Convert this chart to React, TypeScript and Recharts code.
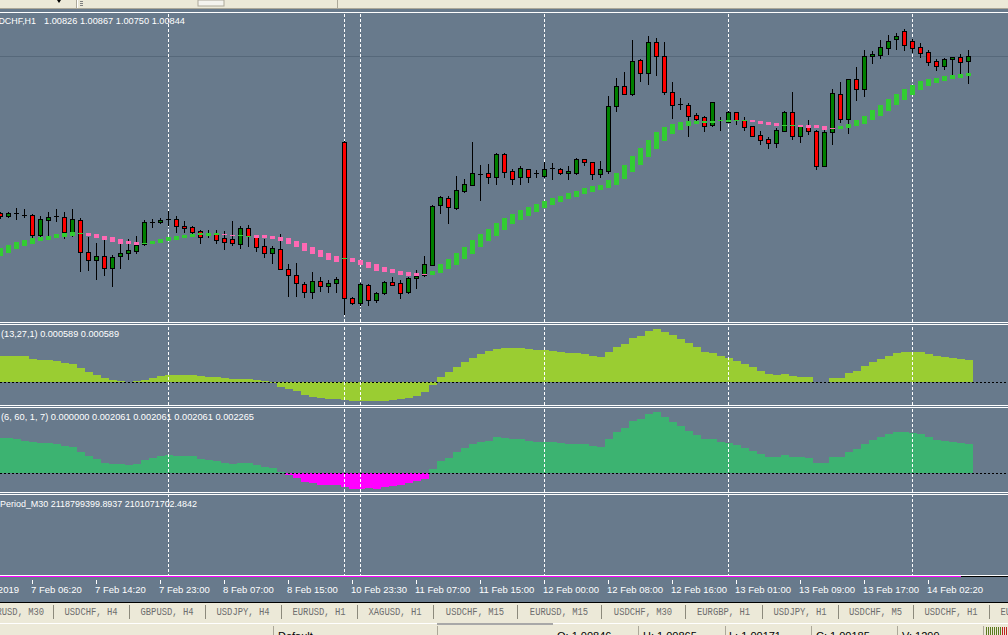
import React from 'react';
import { ComposedChart, Bar, XAxis, YAxis, ReferenceLine, Cell } from 'recharts';

// ---- USDCHF H1 candles ----
const openPrices = [
  1.00282, 1.00272, 1.00282, 1.00277, 1.00276, 1.00205, 1.00259, 1.00272, 1.00269, 1.00217,
  1.00257, 1.00143, 1.00116, 1.00128, 1.00088, 1.00128, 1.00141, 1.00149, 1.00171, 1.0025,
  1.0025, 1.00261, 1.00261, 1.00238, 1.00232, 1.00218, 1.00207, 1.00211, 1.00193, 1.00189,
  1.00174, 1.00229, 1.00202, 1.00165, 1.00139, 1.00155, 1.00083, 1.0006, 1.00028, 1.0,
  1.00039, 1.00021, 1.00032, 1.00537, 0.99978, 0.9996, 1.00026, 0.9997, 0.99996, 1.00035,
  1.00032, 1.00002, 1.0005, 1.00062, 1.00098, 1.00313, 1.00337, 1.00302, 1.00363, 1.00385,
  1.00424, 1.00427, 1.00413, 1.00495, 1.00433, 1.00413, 1.0044, 1.00426, 1.00417, 1.00446,
  1.00442, 1.00426, 1.00428, 1.00476, 1.00465, 1.00424, 1.00435, 1.00668, 1.00738, 1.00711,
  1.00831, 1.00786, 1.00896, 1.00845, 1.00718, 1.00673, 1.0067, 1.00634, 1.00627, 1.00597,
  1.00616, 1.0061, 1.00644, 1.00618, 1.00594, 1.00562, 1.00548, 1.00533, 1.00578, 1.00644,
  1.0056, 1.00595, 1.00577, 1.00453, 1.00575, 1.0071, 1.0062, 1.00762, 1.00728, 1.00844,
  1.0085, 1.00875, 1.00905, 1.00934, 1.00899, 1.00877, 1.0086, 1.00828, 1.00809, 1.00834,
  1.00842, 1.00826,
];
const highPrices = [
  1.00287, 1.00288, 1.003, 1.00298, 1.00279, 1.00273, 1.00288, 1.00298, 1.00286, 1.00298,
  1.00265, 1.00199, 1.00175, 1.00187, 1.00133, 1.00175, 1.00189, 1.00201, 1.00257, 1.00262,
  1.00265, 1.00291, 1.00273, 1.00254, 1.00238, 1.00223, 1.00222, 1.00223, 1.00219, 1.00255,
  1.00237, 1.0024, 1.00205, 1.00189, 1.00166, 1.00208, 1.00101, 1.00105, 1.00036, 1.00071,
  1.00053, 1.00044, 1.00055, 1.00541, 0.99982, 1.00032, 1.00029, 1.00002, 1.00041, 1.00054,
  1.00043, 1.00055, 1.00078, 1.00129, 1.00313, 1.00344, 1.00344, 1.00416, 1.00404, 1.00538,
  1.00455, 1.00459, 1.00498, 1.00498, 1.0044, 1.00452, 1.00442, 1.00437, 1.00467, 1.00464,
  1.00446, 1.00452, 1.0048, 1.00478, 1.00467, 1.0047, 1.00702, 1.00768, 1.00789, 1.00903,
  1.00835, 1.00917, 1.00909, 1.00896, 1.00752, 1.00695, 1.00676, 1.0064, 1.00632, 1.00682,
  1.00626, 1.00649, 1.00646, 1.00626, 1.00596, 1.00577, 1.00555, 1.00587, 1.0065, 1.00717,
  1.00597, 1.00616, 1.0058, 1.00581, 1.00727, 1.00752, 1.00764, 1.00806, 1.00867, 1.00863,
  1.00903, 1.00921, 1.00929, 1.00942, 1.00905, 1.00892, 1.00867, 1.00835, 1.00839, 1.00843,
  1.00854, 1.00867,
];
const lowPrices = [
  1.00266, 1.00268, 1.00263, 1.00268, 1.00199, 1.00199, 1.00202, 1.00255, 1.00195, 1.00202,
  1.00077, 1.00079, 1.00048, 1.00063, 1.00022, 1.00088, 1.0012, 1.00141, 1.00169, 1.00234,
  1.00247, 1.0024, 1.00217, 1.00217, 1.00211, 1.00177, 1.00196, 1.00177, 1.00156, 1.00168,
  1.00158, 1.00166, 1.00149, 1.00127, 1.00106, 1.00082, 0.99987, 0.99987, 0.99984, 0.9998,
  1.00004, 1.0, 1.00001, 0.99922, 0.99957, 0.99954, 0.99954, 0.99965, 0.99994, 1.00027,
  0.9998, 0.99996, 1.00015, 1.00059, 1.00098, 1.00282, 1.00249, 1.00299, 1.0036, 1.00385,
  1.0033, 1.00392, 1.00387, 1.00413, 1.00387, 1.00387, 1.00394, 1.00411, 1.00413, 1.00404,
  1.00423, 1.00404, 1.00423, 1.00454, 1.00404, 1.00413, 1.00426, 1.0065, 1.00711, 1.00706,
  1.00757, 1.00744, 1.00778, 1.00708, 1.00625, 1.00657, 1.0056, 1.00616, 1.00577, 1.00595,
  1.00581, 1.00608, 1.00601, 1.00582, 1.0056, 1.00532, 1.00517, 1.00521, 1.00576, 1.0055,
  1.00539, 1.00565, 1.00442, 1.00453, 1.0053, 1.0061, 1.00571, 1.00688, 1.00703, 1.00821,
  1.00837, 1.00854, 1.00871, 1.00867, 1.0086, 1.00843, 1.00814, 1.00797, 1.008, 1.00778,
  1.00781, 1.0075,
];
const closePrices = [
  1.00273, 1.00283, 1.00282, 1.00277, 1.00205, 1.00262, 1.00269, 1.00272, 1.00217, 1.00262,
  1.00143, 1.00116, 1.00128, 1.00088, 1.00126, 1.0014, 1.00151, 1.00169, 1.0025, 1.0025,
  1.00257, 1.00261, 1.00238, 1.00229, 1.00217, 1.00199, 1.00211, 1.00187, 1.00181, 1.00177,
  1.00229, 1.00201, 1.00163, 1.00139, 1.00157, 1.00084, 1.00063, 1.00032, 1.0, 1.00039,
  1.00021, 1.00032, 1.00047, 0.99978, 0.9996, 1.00029, 0.9997, 0.99996, 1.00035, 1.00027,
  0.99998, 1.00051, 1.00059, 1.00101, 1.00309, 1.0034, 1.00306, 1.00365, 1.00386, 1.00426,
  1.00424, 1.00413, 1.00495, 1.0043, 1.00406, 1.00443, 1.00411, 1.00426, 1.00442, 1.00446,
  1.00426, 1.00433, 1.00476, 1.00465, 1.00424, 1.00441, 1.00666, 1.00738, 1.00711, 1.00828,
  1.00786, 1.00896, 1.00845, 1.00718, 1.00671, 1.00673, 1.00632, 1.0062, 1.00594, 1.0068,
  1.00616, 1.00645, 1.00615, 1.00592, 1.0056, 1.00544, 1.00533, 1.00581, 1.00645, 1.0056,
  1.00595, 1.00578, 1.00453, 1.00573, 1.00713, 1.0062, 1.00762, 1.00728, 1.00845, 1.00853,
  1.00877, 1.00899, 1.00917, 1.00886, 1.00875, 1.00857, 1.00825, 1.00809, 1.00835, 1.00841,
  1.00825, 1.00844,
];

// ---- coloured moving-average blocks (band between previous and current value) ----
const maHigh = [
  1.00157, 1.00169, 1.0018, 1.00187, 1.00194, 1.00198, 1.00201, 1.00208, 1.00212, 1.00215,
  1.00212, 1.00212, 1.00208, 1.00201, 1.00196, 1.0019, 1.00183, 1.0018, 1.00175, 1.00183,
  1.0019, 1.00196, 1.00202, 1.00205, 1.00209, 1.0021, 1.00212, 1.00212, 1.00207, 1.00205,
  1.00205, 1.00202, 1.00205, 1.00205, 1.00201, 1.00198, 1.00194, 1.00183, 1.00176, 1.00162,
  1.00151, 1.00139, 1.0013, 1.00122, 1.00122, 1.00115, 1.00108, 1.00101, 1.00091, 1.00084,
  1.00076, 1.00072, 1.00068, 1.00064, 1.00076, 1.001, 1.00119, 1.0014, 1.00162, 1.00187,
  1.00208, 1.00226, 1.00248, 1.00266, 1.0028, 1.00294, 1.00305, 1.00316, 1.00326, 1.00337,
  1.00344, 1.00355, 1.00362, 1.00373, 1.0038, 1.00385, 1.00402, 1.00427, 1.00455, 1.00488,
  1.00516, 1.00545, 1.00573, 1.0059, 1.00602, 1.00609, 1.00613, 1.00613, 1.00613, 1.00613,
  1.00615, 1.00615, 1.00616, 1.00618, 1.00616, 1.00613, 1.00609, 1.00606, 1.006, 1.00599,
  1.00599, 1.00599, 1.00599, 1.00595, 1.00587, 1.00595, 1.00602, 1.00616, 1.00631, 1.00652,
  1.0067, 1.00692, 1.0071, 1.00727, 1.00742, 1.00756, 1.00763, 1.00767, 1.00774, 1.00778,
  1.00781, 1.00785,
];
const maLow = [
  1.00131, 1.00141, 1.00155, 1.00165, 1.00174, 1.00183, 1.00187, 1.00194, 1.00198, 1.00201,
  1.00212, 1.00201, 1.00194, 1.00187, 1.0018, 1.00174, 1.00174, 1.00169, 1.00175, 1.00172,
  1.00176, 1.00184, 1.00187, 1.00194, 1.00198, 1.00203, 1.00201, 1.00205, 1.00207, 1.00205,
  1.00205, 1.00202, 1.00195, 1.00194, 1.0019, 1.00183, 1.00172, 1.00162, 1.00147, 1.00137,
  1.00126, 1.00115, 1.00109, 1.00122, 1.00109, 1.00097, 1.00088, 1.00077, 1.00073, 1.0007,
  1.00063, 1.00059, 1.00059, 1.00064, 1.00062, 1.0007, 1.00083, 1.00097, 1.00119, 1.00137,
  1.00162, 1.00183, 1.00201, 1.00223, 1.00244, 1.00258, 1.00273, 1.00287, 1.00301, 1.00312,
  1.00323, 1.00334, 1.00341, 1.00351, 1.00359, 1.00366, 1.00373, 1.00384, 1.00405, 1.0043,
  1.00455, 1.00484, 1.00513, 1.00541, 1.00566, 1.00581, 1.00595, 1.00602, 1.00606, 1.00606,
  1.00615, 1.00609, 1.00612, 1.00618, 1.00609, 1.00602, 1.00599, 1.00595, 1.006, 1.00599,
  1.00592, 1.00587, 1.00588, 1.00581, 1.00587, 1.00583, 1.00588, 1.00595, 1.00602, 1.00616,
  1.00631, 1.00649, 1.0067, 1.00688, 1.00706, 1.00724, 1.00738, 1.00749, 1.00756, 1.00763,
  1.00767, 1.00774,
];
const maRising = [
  1, 1, 1, 1, 1, 1, 1, 1, 1, 1, 1,
  0, 0, 0, 0, 0, 0, 0,
  1, 1, 1, 1, 1, 1, 1, 1, 1, 1,
  0, 0,
  1, 1,
  0, 0, 0, 0, 0, 0, 0, 0, 0, 0, 0,
  1,
  0, 0, 0, 0, 0, 0, 0, 0, 0, 0,
  1, 1, 1, 1, 1, 1, 1, 1, 1, 1, 1, 1, 1, 1, 1, 1, 1, 1, 1, 1,
  1, 1, 1, 1, 1, 1, 1, 1, 1, 1, 1, 1, 1, 1, 1, 1, 1, 1, 1, 1,
  0, 0, 0, 0,
  1, 1,
  0, 0, 0, 0, 0,
  1, 1, 1, 1, 1, 1, 1, 1, 1, 1, 1, 1, 1, 1, 1, 1, 1,
];

// ---- indicator window 1 (13,27,1) ----
const osmaValues = [
  0.000696, 0.000696, 0.000696, 0.000696, 0.000625, 0.000589, 0.000589, 0.000553, 0.0005, 0.000482,
  0.000375, 0.000268, 0.000187, 0.000107, 0.000054, 0.000036, 0.0, 0.000018, 0.000054, 0.000107,
  0.000152, 0.000178, 0.000178, 0.000178, 0.000178, 0.000161, 0.000143, 0.000125, 0.000107, 0.000071,
  0.000089, 0.000089, 0.000045, 0.000018, -0.000036, -0.000125, -0.000178, -0.000232, -0.000339, -0.000393,
  -0.000428, -0.000446, -0.000446, -0.000482, -0.000517, -0.000517, -0.0005, -0.000517, -0.0005, -0.000482,
  -0.000464, -0.000428, -0.000375, -0.000268, -0.000071, 0.000143, 0.000268, 0.000401, 0.000544, 0.000642,
  0.000749, 0.000821, 0.000874, 0.00091, 0.00091, 0.00091, 0.000883, 0.000856, 0.000856, 0.00083,
  0.000803, 0.000776, 0.000776, 0.000749, 0.000696, 0.000669, 0.000803, 0.000937, 0.001017, 0.001177,
  0.001231, 0.001365, 0.001418, 0.001338, 0.001258, 0.001151, 0.001044, 0.000937, 0.000803, 0.000776,
  0.000696, 0.000642, 0.000562, 0.000482, 0.000401, 0.000294, 0.000214, 0.000187, 0.000214, 0.000161,
  0.000134, 0.000134, 0.000009, 0.0, 0.000107, 0.000107, 0.000241, 0.000294, 0.000428, 0.000535,
  0.000616, 0.000696, 0.000776, 0.000803, 0.000803, 0.000803, 0.000749, 0.000696, 0.000669, 0.000642,
  0.000616, 0.000589,
];

// ---- indicator window 2 (6, 60, 1, 7) ----
const histValues = [
  0.00248, 0.00248, 0.00241, 0.00227, 0.0022, 0.002129, 0.002129, 0.002059, 0.001919, 0.001849,
  0.001498, 0.001217, 0.001006, 0.000725, 0.000655, 0.000655, 0.000585, 0.000655, 0.000936, 0.001076,
  0.001217, 0.001287, 0.00124, 0.001217, 0.001217, 0.001006, 0.000936, 0.000866, 0.000725, 0.000655,
  0.000725, 0.000725, 0.000585, 0.000445, 0.000374, 0.00007, -0.000094, -0.000328, -0.000608, -0.000679,
  -0.000796, -0.000796, -0.000842, -0.000936, -0.001076, -0.001076, -0.001006, -0.001076, -0.000936, -0.000866,
  -0.000796, -0.000655, -0.000515, -0.000374, 0.000281, 0.000842, 0.001076, 0.001474, 0.001778, 0.002059,
  0.0022, 0.00227, 0.002551, 0.00248, 0.00241, 0.00241, 0.00227, 0.0022, 0.0022, 0.0022,
  0.002129, 0.002059, 0.002059, 0.002059, 0.001919, 0.001849, 0.00241, 0.002902, 0.003182, 0.003674,
  0.003814, 0.004165, 0.004306, 0.003955, 0.003604, 0.003323, 0.002972, 0.002691, 0.00241, 0.00241,
  0.0022, 0.002129, 0.001989, 0.001778, 0.001568, 0.001357, 0.001147, 0.001147, 0.001287, 0.001147,
  0.001147, 0.001076, 0.000725, 0.000725, 0.001147, 0.001147, 0.001498, 0.001708, 0.002059, 0.00234,
  0.002551, 0.002761, 0.002902, 0.002902, 0.002831, 0.002761, 0.002551, 0.00234, 0.00227, 0.0022,
  0.002129, 0.002061,
];

const separatorBars = [21, 43, 45, 68, 91, 114];
const timeTickBars = [4, 12, 20, 28, 36, 44, 52, 60, 68, 76, 84, 92, 100, 108, 116];
const timeTickLabels = [
  '7 Feb 06:20', '7 Feb 14:20', '7 Feb 23:00', '8 Feb 07:00', '8 Feb 15:00', '10 Feb 23:30',
  '11 Feb 07:00', '11 Feb 15:00', '12 Feb 00:00', '12 Feb 08:00', '12 Feb 16:00', '13 Feb 01:00',
  '13 Feb 09:00', '13 Feb 17:00', '14 Feb 02:20',
];
const tabLabels = [
  'EURUSD, M30', 'USDCHF, H4', 'GBPUSD, H4', 'USDJPY, H4', 'EURUSD, H1', 'XAGUSD, H1', 'USDCHF, M15',
  'EURUSD, M15', 'USDCHF, M30', 'EURGBP, H1', 'USDJPY, H1', 'USDCHF, M5', 'USDCHF, H1', 'EURUSD, H4',
];
const statusTexts = ['O: 1.00846', 'H: 1.00865', 'L: 1.00171', 'C: 1.00185', 'V: 1299'];

const data = openPrices.map((o, i) => ({
  i,
  o,
  h: highPrices[i],
  l: lowPrices[i],
  c: closePrices[i],
  hl: [lowPrices[i], highPrices[i]],
  ma: [maLow[i], maHigh[i]],
  up: maRising[i],
  osma: osmaValues[i],
  hist: histValues[i],
  z: 0,
}));

const STEEL = '#687A8C';
const BEIGE = '#ECE9D8';
const FONT = '"Liberation Sans", Arial, sans-serif';
const CW = 1016;
const PAD = { left: 0.5, right: 39.5 };
const M0 = { top: 0, right: 0, bottom: 0, left: 0 };

function CandleShape(props: any) {
  const { x, y, width, height, payload } = props;
  if (x == null || !payload) return <g />;
  const { o, h, l, c } = payload;
  const top = Math.min(y, y + height);
  const span = Math.abs(height);
  const py = (p: number) => top + ((h - p) / (h - l)) * span;
  const cx = x + width / 2;
  const yH = Math.round(py(h));
  const yL = Math.round(py(l));
  const yT = Math.round(py(Math.max(o, c)));
  const yB = Math.round(py(Math.min(o, c)));
  const bull = c > o;
  let body;
  if (o === c || yB - yT < 1) {
    body = <rect x={cx - 2.5} y={yT} width={5} height={1} fill="#000" />;
  } else if (yB - yT < 2) {
    body = <rect x={cx - 2.5} y={yT} width={5} height={yB - yT + 1} fill="#000" />;
  } else {
    body = (
      <rect x={cx - 2} y={yT + 0.5} width={4} height={yB - yT} fill={bull ? '#008000' : '#FF0000'} stroke="#000" strokeWidth={1} />
    );
  }
  return (
    <g>
      <rect x={cx - 0.5} y={yH} width={1} height={Math.max(1, yL - yH + 1)} fill="#000" />
      {body}
    </g>
  );
}

function MaShape(props: any) {
  const { x, y, width, height, payload } = props;
  if (x == null || !payload) return <g />;
  const t = Math.round(Math.min(y, y + height));
  const b = Math.round(Math.max(y, y + height));
  const cx = x + width / 2;
  return <rect x={cx - 2.5} y={t} width={5} height={Math.max(1, b - t)} fill={payload.up ? '#32CD32' : '#FF69B4'} />;
}

function TimeTick(props: any) {
  const { x, y, payload } = props;
  const k = timeTickBars.indexOf(payload.value);
  return (
    <g>
      <rect x={x - 0.5} y={y + 3} width={1} height={4} fill="#fff" />
      <text x={x - 1.5} y={y + 16} fill="#fff" fontSize={9.5} fontFamily={FONT} textAnchor="start">
        {timeTickLabels[k]}
      </text>
    </g>
  );
}

const sepLines = (id?: string, z?: number) =>
  separatorBars.map((s) => (
    <ReferenceLine
      key={'s' + s}
      {...(id ? { xAxisId: id } : {})}
      {...(z !== undefined ? { zIndex: z } : {})}
      x={s}
      stroke="#fff"
      strokeWidth={1}
      strokeDasharray="3 2"
    />
  ));

function Txt({ x, y, children, len, size = 9.5, fill = '#fff', anchor = 'start', family = FONT }: any) {
  return (
    <text
      x={x}
      y={y}
      fill={fill}
      fontSize={size}
      fontFamily={family}
      textAnchor={anchor}
      {...(len ? { textLength: len, lengthAdjust: 'spacingAndGlyphs' } : {})}
    >
      {children}
    </text>
  );
}

export default function App() {
  const tabEdges = [-23, 53, 129, 205, 281, 357, 433, 517, 601, 685, 762, 838, 913, 989, 1065];
  const statusX = [557, 643, 729, 816, 902];
  const statusDiv = [273, 437, 638, 725, 811, 897, 983];
  return (
    <div
      className="mt"
      style={{ position: 'absolute', left: 0, top: 0, width: 1008, height: 635, overflow: 'hidden', background: STEEL }}
    >
      <style>{`.mt .recharts-wrapper svg * { shape-rendering: crispEdges; }`}</style>

      {/* main price window */}
      <div style={{ position: 'absolute', left: -4, top: 12, width: CW, height: 310 }}>
        <ComposedChart width={CW} height={310} data={data} margin={M0} barCategoryGap={0} barGap={0}>
          <XAxis xAxisId="a" dataKey="i" type="category" hide padding={PAD} />
          <XAxis xAxisId="b" dataKey="i" type="category" hide padding={PAD} />
          <YAxis hide type="number" domain={[0.99893, 1.01003]} allowDataOverflow />
          <ReferenceLine xAxisId="a" y={1.00844} stroke="#56687A" strokeWidth={1} zIndex={-10} />
          {sepLines('a', -10)}
          <Bar xAxisId="a" dataKey="hl" shape={CandleShape} isAnimationActive={false} />
          <Bar xAxisId="b" dataKey="ma" shape={MaShape} isAnimationActive={false} />
        </ComposedChart>
      </div>

      {/* indicator window 1 */}
      <div style={{ position: 'absolute', left: -4, top: 325, width: CW, height: 80 }}>
        <ComposedChart width={CW} height={80} data={data} margin={M0} barCategoryGap={0} barGap={0}>
          <XAxis dataKey="i" type="category" hide padding={PAD} />
          <YAxis hide type="number" domain={[-0.000616, 0.001528]} allowDataOverflow />
          <Bar dataKey="osma" fill="#9ACD32" isAnimationActive={false} />
          <ReferenceLine y={0} stroke="#000" strokeDasharray="2 2" />
          {sepLines()}
        </ComposedChart>
      </div>

      {/* indicator window 2 */}
      <div style={{ position: 'absolute', left: -4, top: 408, width: CW, height: 84 }}>
        <ComposedChart width={CW} height={84} data={data} margin={M0} barCategoryGap={0} barGap={0}>
          <XAxis dataKey="i" type="category" hide padding={PAD} />
          <YAxis hide type="number" domain={[-0.001313, 0.004584]} allowDataOverflow />
          <Bar dataKey="hist" isAnimationActive={false}>
            {data.map((d) => (
              <Cell key={d.i} fill={d.hist >= 0 ? '#3CB371' : '#FF00FF'} />
            ))}
          </Bar>
          <ReferenceLine y={0} stroke="#000" strokeDasharray="2 2" />
          {sepLines()}
        </ComposedChart>
      </div>

      {/* indicator window 3 + time axis */}
      <div style={{ position: 'absolute', left: -4, top: 495, width: CW, height: 107 }}>
        <ComposedChart width={CW} height={107} data={data} margin={M0} barCategoryGap={0} barGap={0}>
          <XAxis
            dataKey="i"
            type="category"
            padding={PAD}
            height={25}
            axisLine={false}
            tickLine={false}
            tickSize={0}
            tickMargin={0}
            ticks={timeTickBars}
            interval={0}
            tick={<TimeTick />}
          />
          <YAxis hide type="number" domain={[0, 1]} />
          <Bar dataKey="z" fill="none" isAnimationActive={false} />
          {sepLines()}
        </ComposedChart>
      </div>

      {/* frame, texts, tab bar, status bar */}
      <svg width={1008} height={635} style={{ position: 'absolute', left: 0, top: 0, pointerEvents: 'none' }}>
        {/* toolbar strip */}
        <rect x={0} y={0} width={1008} height={8} fill={BEIGE} />
        <rect x={0} y={8} width={1008} height={1} fill="#ACA899" />
        <rect x={76} y={0} width={1} height={8} fill="#ACA899" />
        <rect x={77} y={0} width={1} height={8} fill="#fff" />
        <rect x={337} y={0} width={1} height={8} fill="#ACA899" />
        <rect x={198} y={0} width={26} height={6} fill="#F4F3EE" stroke="#ACA899" strokeWidth={1} />
        <rect x={80} y={1} width={3} height={1} fill="#808080" />
        <rect x={80} y={3} width={3} height={1} fill="#808080" />
        <rect x={80} y={5} width={3} height={1} fill="#808080" />
        <path d="M57 0 L61 0 L59 3 Z" fill="#000" />

        {/* window frames */}
        <rect x={0} y={12} width={1008} height={1} fill="#fff" />
        <rect x={0} y={322} width={1008} height={1} fill="#fff" />
        <rect x={0} y={324} width={1008} height={1} fill="#fff" />
        <rect x={0} y={405} width={1008} height={1} fill="#fff" />
        <rect x={0} y={407} width={1008} height={1} fill="#fff" />
        <rect x={0} y={492} width={1008} height={1} fill="#fff" />
        <rect x={0} y={494} width={1008} height={1} fill="#fff" />
        <rect x={0} y={575} width={1008} height={1} fill="#fff" />
        <rect x={0} y={576} width={961} height={1} fill="#FF00FF" />
        <rect x={961} y={576} width={47} height={1} fill="#000" />

        {/* window titles */}
        <Txt x={-14} y={24} len={50}>USDCHF,H1</Txt>
        <Txt x={44} y={24} len={141}>1.00826 1.00867 1.00750 1.00844</Txt>
        <Txt x={1} y={337} len={118}>(13,27,1) 0.000589 0.000589</Txt>
        <Txt x={1} y={420} len={253}>(6, 60, 1, 7) 0.000000 0.002061 0.002061 0.002061 0.002265</Txt>
        <Txt x={0} y={507} len={197}>Period_M30 2118799399.8937 2101071702.4842</Txt>
        <Txt x={19} y={593} anchor="end">7 Feb 2019</Txt>

        {/* tab bar */}
        <rect x={0} y={602} width={1008} height={1} fill="#000" />
        <rect x={0} y={603} width={1008} height={20} fill={BEIGE} />
        {tabEdges.slice(1, -1).map((e) => (
          <g key={'d' + e}>
            <rect x={e} y={605} width={1} height={14} fill="#8C8A7C" />
          </g>
        ))}
        {tabLabels.map((t, k) => (
          <Txt
            key={t + k}
            x={(tabEdges[k] + tabEdges[k + 1]) / 2}
            y={615}
            anchor="middle"
            size={10.5}
            fill="#6E6E6E"
            family='"Liberation Mono", "DejaVu Sans Mono", monospace'
            len={t.length * 5.3}
          >
            {t}
          </Txt>
        ))}

        {/* status bar */}
        <rect x={0} y={623} width={1008} height={12} fill={BEIGE} />
        <rect x={0} y={623} width={1008} height={1} fill="#fff" />
        <rect x={437} y={623} width={116} height={2} fill="#A8A8A8" />
        {statusDiv.map((x) => (
          <rect key={'sd' + x} x={x} y={626} width={1} height={9} fill="#ACA899" />
        ))}
        <Txt x={278} y={640} size={11} fill="#000">Default</Txt>
        {statusTexts.map((t, k) => (
          <Txt key={t} x={statusX[k]} y={640} size={11} fill="#000">
            {t}
          </Txt>
        ))}
        {[986, 988, 990, 992, 994, 996, 998, 1000].map((x) => (
          <rect key={'g' + x} x={x} y={627} width={1} height={8} fill="#5C7A1E" />
        ))}
        {[1002, 1004, 1006].map((x) => (
          <rect key={'r' + x} x={x} y={627} width={1} height={8} fill="#C02020" />
        ))}
      </svg>
    </div>
  );
}
